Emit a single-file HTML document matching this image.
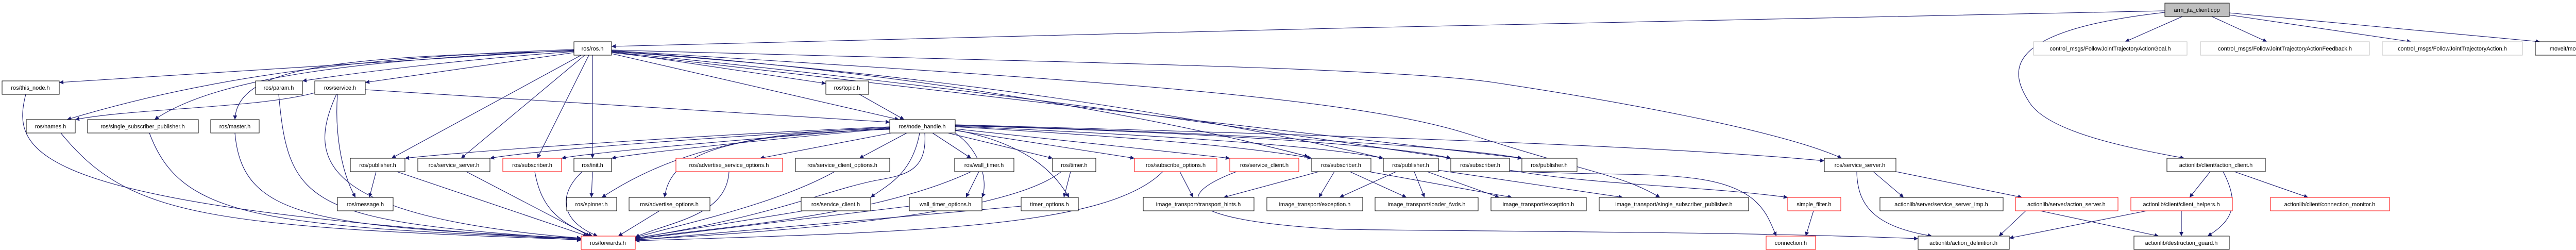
<!DOCTYPE html>
<html><head><meta charset="utf-8"><style>
html,body{margin:0;padding:0;background:#fff;}
svg{display:block}
text{font-family:"Liberation Sans",sans-serif;font-size:11px;text-anchor:middle;fill:#000}
.e{fill:none;stroke:#191970;stroke-width:1.1}
.n{fill:#fff;stroke:#000;stroke-width:1}
.r{fill:#fff;stroke:#ff0000;stroke-width:1}
.g{fill:#fff;stroke:#bfbfbf;stroke-width:1}
</style></head><body>
<svg width="5216" height="485" viewBox="0 0 5216 485" xmlns="http://www.w3.org/2000/svg">
<defs><marker id="a" viewBox="0 0 10 10" refX="10" refY="5" markerWidth="10" markerHeight="8" markerUnits="userSpaceOnUse" orient="auto"><path d="M0,0L10,5L0,10z" fill="#191970"/></marker></defs>
<g class="e" marker-end="url(#a)">
<!-- arm -->
<path d="M4202,21 C3500,30 2000,70 1187,90"/>
<path d="M4236,32 L4125,81"/>
<path d="M4293,32 L4400,81"/>
<path d="M4327,29 L4680,81"/>
<path d="M4327,25 L4930,81"/>
<path d="M4202,24 C3880,60 3900,140 3940,200 S4150,290 4240,307"/>
<!-- ros.h -->
<path d="M1114,97 L115,160"/>
<path d="M1114,96 C700,110 400,150 130,232"/>
<path d="M1114,98 C700,115 420,150 300,232"/>
<path d="M1114,99 C650,110 460,130 456,232"/>
<path d="M1114,100 C900,115 700,140 587,157"/>
<path d="M1114,102 L709,160"/>
<path d="M1128,107 L760,307"/>
<path d="M1135,107 L895,307"/>
<path d="M1143,107 L1043,307"/>
<path d="M1150,107 L1150,307"/>
<path d="M1187,100 L1603,162"/>
<path d="M1187,104 L1745,232"/>
<path d="M1187,97 C2000,120 2700,130 2900,160 S3450,250 3575,307"/>
<path d="M1187,98 C2000,150 2600,180 2850,260 S3150,340 3222,383"/>
<path d="M1187,99 C1800,140 2300,240 2540,304"/>
<path d="M1187,100 C1900,150 2400,240 2685,307"/>
<path d="M1187,101 C1900,170 2500,260 2816,307"/>
<path d="M1187,102 C1900,190 2600,270 2954,307"/>
<!-- service.h -->
<path d="M611,180 C500,210 260,210 146,232"/>
<path d="M655,183 C650,250 660,330 690,383"/>
<path d="M653,183 C600,300 600,420 1128,462"/>
<path d="M709,174 L1727,237"/>
<!-- to forwards -->
<path d="M50,183 C20,300 60,400 1128,466"/>
<path d="M541,183 C560,400 600,430 1128,464"/>
<path d="M118,258 C250,420 400,440 1128,465"/>
<path d="M290,258 C350,420 500,440 1128,463"/>
<path d="M456,258 C470,420 600,440 1128,462"/>
<path d="M730,333 L717,383"/>
<path d="M770,333 L1140,458"/>
<path d="M905,333 L1145,458"/>
<path d="M1038,333 C1050,400 1080,430 1150,458"/>
<path d="M1130,333 C1080,380 1090,430 1160,458"/>
<path d="M1150,333 L1148,383"/>
<path d="M1280,409 L1200,458"/>
<!-- topic -->
<path d="M1668,183 L1755,232"/>
<!-- node_handle -->
<path d="M1727,246 C1400,260 950,290 786,307"/>
<path d="M1727,247 C1400,265 1050,290 951,307"/>
<path d="M1727,248 C1450,270 1150,295 1090,307"/>
<path d="M1727,249 C1500,270 1250,295 1187,307"/>
<path d="M1727,250 C1400,250 1250,330 1168,383"/>
<path d="M1727,251 C1400,260 1300,300 1290,383"/>
<path d="M1730,258 L1475,307"/>
<path d="M1760,258 L1668,307"/>
<path d="M1785,258 C1770,340 1720,360 1690,383"/>
<path d="M1795,258 C1800,330 1760,340 1700,350 C1600,370 1500,420 1233,462"/>
<path d="M1810,258 L1885,307"/>
<path d="M1840,250 C1900,280 1920,350 1906,383"/>
<path d="M1840,258 L2043,307"/>
<path d="M1854,252 C2000,280 2050,340 2075,383"/>
<path d="M1854,253 L2202,307"/>
<path d="M1854,250 L2387,307"/>
<path d="M1854,246 C2100,260 2400,280 2546,307"/>
<path d="M1854,245 C2200,260 2550,280 2685,307"/>
<path d="M1854,244 C2300,255 2700,280 2816,307"/>
<path d="M1854,243 C2300,255 2800,280 2954,307"/>
<path d="M1854,242 C2500,260 3200,280 3541,312"/>
<!-- mid row to forwards -->
<path d="M1415,333 C1410,420 1300,430 1233,460"/>
<path d="M1620,333 C1500,400 1300,440 1233,461"/>
<path d="M1560,409 L1233,462"/>
<path d="M1885,333 C1700,420 1400,440 1233,463"/>
<path d="M1900,333 L1875,383"/>
<path d="M1765,400 L1233,464"/>
<path d="M2060,333 C1950,420 1500,450 1233,465"/>
<path d="M2078,333 L2065,383"/>
<path d="M1982,400 L1233,466"/>
<path d="M2257,333 C2150,440 1800,450 1233,467"/>
<path d="M2290,333 L2316,383"/>
<path d="M2400,333 C2250,390 2330,430 2600,445 C3000,450 3400,450 3723,463"/>
<!-- image transport -->
<path d="M2560,333 L2375,383"/>
<path d="M2590,333 L2560,383"/>
<path d="M2620,333 L2730,383"/>
<path d="M2640,330 L2935,383"/>
<path d="M2710,333 L2600,383"/>
<path d="M2745,333 L2765,383"/>
<path d="M2770,333 L2910,383"/>
<path d="M2790,330 L3150,383"/>
<path d="M2930,332 C3100,340 3200,335 3280,345 C3420,360 3430,420 3448,458"/>
<path d="M2930,330 C3100,360 3300,360 3470,383"/>
<path d="M3520,409 L3505,458"/>
<!-- actionlib -->
<path d="M3604,333 C3605,400 3640,440 3750,458"/>
<path d="M3636,333 L3695,383"/>
<path d="M3680,333 L3925,383"/>
<path d="M3932,409 L3880,458"/>
<path d="M3960,409 L4190,458"/>
<path d="M4167,409 L3900,462"/>
<path d="M4234,409 L4234,458"/>
<path d="M4290,333 L4250,383"/>
<path d="M4315,333 C4350,400 4330,430 4285,458"/>
<path d="M4337,333 L4480,383"/>
</g>
<g>
<rect x="4202" y="6" width="125" height="26" fill="#bfbfbf" stroke="#000"/><text x="4264" y="23">arm_jta_client.cpp</text>
<rect class="g" x="3947" y="81" width="298" height="26"/><text x="4096" y="98">control_msgs/FollowJointTrajectoryActionGoal.h</text>
<rect class="g" x="4271" y="81" width="328" height="26"/><text x="4435" y="98">control_msgs/FollowJointTrajectoryActionFeedback.h</text>
<rect class="g" x="4624" y="81" width="272" height="26"/><text x="4760" y="98">control_msgs/FollowJointTrajectoryAction.h</text>
<rect class="n" x="4921" y="81" width="274" height="26"/><text x="5058" y="98">moveit/move_group_interface/move_group.h</text>
<rect class="n" x="1114" y="81" width="73" height="26"/><text x="1150" y="98">ros/ros.h</text>
<rect class="n" x="4" y="157" width="111" height="26"/><text x="59" y="174">ros/this_node.h</text>
<rect class="n" x="496" y="157" width="91" height="26"/><text x="541" y="174">ros/param.h</text>
<rect class="n" x="611" y="157" width="98" height="26"/><text x="660" y="174">ros/service.h</text>
<rect class="n" x="1603" y="157" width="83" height="26"/><text x="1644" y="174">ros/topic.h</text>
<rect class="n" x="51" y="232" width="95" height="26"/><text x="98" y="249">ros/names.h</text>
<rect class="n" x="170" y="232" width="215" height="26"/><text x="277" y="249">ros/single_subscriber_publisher.h</text>
<rect class="n" x="409" y="232" width="94" height="26"/><text x="456" y="249">ros/master.h</text>
<rect class="n" x="1727" y="232" width="127" height="26"/><text x="1790" y="249">ros/node_handle.h</text>
<rect class="n" x="680" y="307" width="106" height="26"/><text x="733" y="324">ros/publisher.h</text>
<rect class="n" x="811" y="307" width="140" height="26"/><text x="881" y="324">ros/service_server.h</text>
<rect class="r" x="976" y="307" width="114" height="26"/><text x="1033" y="324">ros/subscriber.h</text>
<rect class="n" x="1114" y="307" width="73" height="26"/><text x="1150" y="324">ros/init.h</text>
<rect class="r" x="1312" y="307" width="207" height="26"/><text x="1415" y="324">ros/advertise_service_options.h</text>
<rect class="n" x="1544" y="307" width="183" height="26"/><text x="1635" y="324">ros/service_client_options.h</text>
<rect class="n" x="1853" y="307" width="115" height="26"/><text x="1910" y="324">ros/wall_timer.h</text>
<rect class="n" x="2043" y="307" width="84" height="26"/><text x="2085" y="324">ros/timer.h</text>
<rect class="r" x="2202" y="307" width="160" height="26"/><text x="2282" y="324">ros/subscribe_options.h</text>
<rect class="r" x="2387" y="307" width="134" height="26"/><text x="2454" y="324">ros/service_client.h</text>
<rect class="n" x="2546" y="307" width="115" height="26"/><text x="2603" y="324">ros/subscriber.h</text>
<rect class="n" x="2685" y="307" width="107" height="26"/><text x="2738" y="324">ros/publisher.h</text>
<rect class="n" x="2816" y="307" width="114" height="26"/><text x="2873" y="324">ros/subscriber.h</text>
<rect class="n" x="2954" y="307" width="107" height="26"/><text x="3007" y="324">ros/publisher.h</text>
<rect class="n" x="3541" y="307" width="139" height="26"/><text x="3610" y="324">ros/service_server.h</text>
<rect class="n" x="4206" y="307" width="191" height="26"/><text x="4301" y="324">actionlib/client/action_client.h</text>
<rect class="n" x="655" y="383" width="108" height="26"/><text x="709" y="400">ros/message.h</text>
<rect class="n" x="1100" y="383" width="97" height="26"/><text x="1148" y="400">ros/spinner.h</text>
<rect class="n" x="1221" y="383" width="157" height="26"/><text x="1299" y="400">ros/advertise_options.h</text>
<rect class="n" x="1555" y="383" width="135" height="26"/><text x="1622" y="400">ros/service_client.h</text>
<rect class="n" x="1765" y="383" width="141" height="26"/><text x="1835" y="400">wall_timer_options.h</text>
<rect class="n" x="1982" y="383" width="111" height="26"/><text x="2037" y="400">timer_options.h</text>
<rect class="n" x="2219" y="383" width="215" height="26"/><text x="2326" y="400">image_transport/transport_hints.h</text>
<rect class="n" x="2459" y="383" width="186" height="26"/><text x="2552" y="400">image_transport/exception.h</text>
<rect class="n" x="2669" y="383" width="200" height="26"/><text x="2769" y="400">image_transport/loader_fwds.h</text>
<rect class="n" x="2894" y="383" width="185" height="26"/><text x="2986" y="400">image_transport/exception.h</text>
<rect class="n" x="3104" y="383" width="290" height="26"/><text x="3249" y="400">image_transport/single_subscriber_publisher.h</text>
<rect class="r" x="3470" y="383" width="103" height="26"/><text x="3521" y="400">simple_filter.h</text>
<rect class="n" x="3649" y="383" width="239" height="26"/><text x="3768" y="400">actionlib/server/service_server_imp.h</text>
<rect class="r" x="3912" y="383" width="199" height="26"/><text x="4011" y="400">actionlib/server/action_server.h</text>
<rect class="r" x="4136" y="383" width="197" height="26"/><text x="4234" y="400">actionlib/client/client_helpers.h</text>
<rect class="r" x="4407" y="383" width="231" height="26"/><text x="4522" y="400">actionlib/client/connection_monitor.h</text>
<rect class="r" x="1128" y="458" width="105" height="26"/><text x="1180" y="475">ros/forwards.h</text>
<rect class="r" x="3428" y="458" width="96" height="26"/><text x="3476" y="475">connection.h</text>
<rect class="n" x="3723" y="458" width="177" height="26"/><text x="3811" y="475">actionlib/action_definition.h</text>
<rect class="n" x="4142" y="458" width="185" height="26"/><text x="4234" y="475">actionlib/destruction_guard.h</text>
</g>
</svg>
</body></html>
